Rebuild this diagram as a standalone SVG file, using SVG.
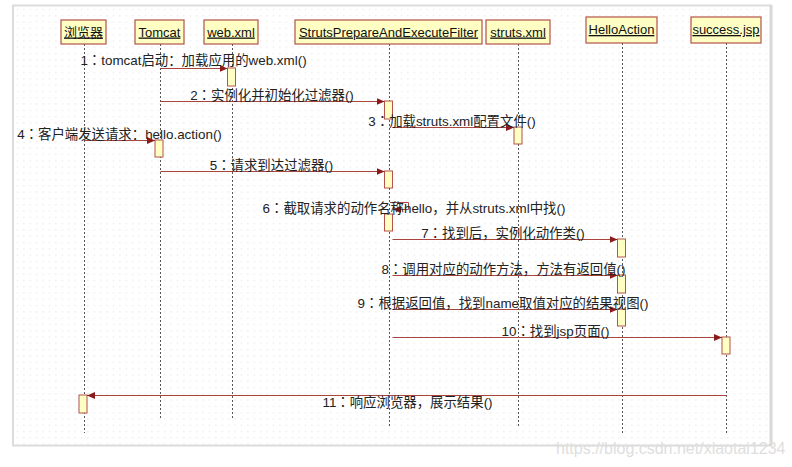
<svg xmlns="http://www.w3.org/2000/svg" width="792" height="467" viewBox="0 0 792 467">
<defs>
<pattern id="grid" x="13" y="6" width="6.4" height="6.3" patternUnits="userSpaceOnUse">
<rect x="4" y="3" width="1" height="1" fill="#d9d9d9"/>
</pattern>
<marker id="arr" markerWidth="9" markerHeight="7" refX="8" refY="3.5" orient="auto" markerUnits="userSpaceOnUse">
<path d="M0,0 L8,3.5 L0,7 z" fill="#8B1A1A"/>
</marker>
</defs>
<style>
.hdr{fill:#FFFFC4;stroke:#B5524A;stroke-width:1.2}
.act{fill:#FFFFC4;stroke:#B5524A;stroke-width:1}
.life{stroke:#555;stroke-width:1;stroke-dasharray:2,2;fill:none}
.ht{font-family:"Liberation Sans","Noto Sans CJK SC",sans-serif;font-size:13px;fill:#111;text-anchor:middle;text-decoration:underline}
.lbl{font-family:"Liberation Sans","Noto Sans CJK SC",sans-serif;font-size:13.4px;fill:#222;text-anchor:middle}
.c{font-family:"Noto Sans CJK TC",sans-serif}
.msg{stroke:#A8453F;stroke-width:1;fill:none;marker-end:url(#arr)}
</style>
<rect x="0" y="0" width="792" height="467" fill="#fff"/>
<rect x="13" y="5.5" width="758" height="440" fill="url(#grid)" stroke="#dcdcdc" stroke-width="2"/>
<line x1="771" y1="5" x2="771" y2="446" stroke="#d8d8d8" stroke-width="3"/>

<g id="browser">
<line class="life" x1="84.5" y1="44" x2="84.5" y2="433"/>
<rect class="hdr" x="61" y="20" width="45" height="24"/>
<text class="ht" x="83.5" y="36.5">浏览器</text>
<rect class="act" x="79" y="395" width="8" height="18"/>
</g>
<g id="tomcat">
<line class="life" x1="160.5" y1="44" x2="160.5" y2="418"/>
<rect class="hdr" x="135" y="20" width="49" height="24"/>
<text class="ht" x="159.5" y="36.5">Tomcat</text>
<rect class="act" x="155" y="140" width="8" height="17"/>
</g>
<g id="webxml">
<line class="life" x1="232.5" y1="44" x2="232.5" y2="418"/>
<rect class="hdr" x="204" y="20" width="54" height="24"/>
<text class="ht" x="231" y="36.5">web.xml</text>
<rect class="act" x="227.5" y="68" width="8" height="18"/>
</g>
<g id="filter">
<line class="life" x1="389.5" y1="44" x2="389.5" y2="427"/>
<rect class="hdr" x="295" y="20" width="187" height="24"/>
<text class="ht" x="388.5" y="36.5">StrutsPrepareAndExecuteFilter</text>
<rect class="act" x="384.5" y="101" width="8" height="18"/>
<rect class="act" x="384.5" y="171" width="8" height="17"/>
<rect class="act" x="384.5" y="214" width="8" height="17"/>
</g>
<g id="strutsxml">
<line class="life" x1="518.5" y1="44" x2="518.5" y2="426"/>
<rect class="hdr" x="486" y="20" width="64" height="24"/>
<text class="ht" x="518" y="36.5">struts.xml</text>
<rect class="act" x="514" y="127" width="8" height="17"/>
</g>
<g id="helloaction">
<line class="life" x1="622.5" y1="43" x2="622.5" y2="435"/>
<rect class="hdr" x="586" y="17" width="71" height="26"/>
<text class="ht" x="621.5" y="34">HelloAction</text>
<rect class="act" x="617.5" y="239" width="8" height="18"/>
<rect class="act" x="617.5" y="275" width="8" height="18"/>
<rect class="act" x="617.5" y="309" width="8" height="17"/>
</g>
<g id="successjsp">
<line class="life" x1="726.5" y1="43" x2="726.5" y2="435"/>
<rect class="hdr" x="691" y="17" width="70" height="26"/>
<text class="ht" x="726" y="34">success.jsp</text>
<rect class="act" x="722" y="337" width="8" height="17"/>
</g>

<g id="connectors">
<line class="msg" x1="160.5" y1="68.5" x2="227.5" y2="68.5"/>
<line class="msg" x1="160.5" y1="101.5" x2="384.5" y2="101.5"/>
<line class="msg" x1="392.5" y1="127.5" x2="514" y2="127.5"/>
<line class="msg" x1="84.5" y1="140.5" x2="155" y2="140.5"/>
<line class="msg" x1="160.5" y1="171.5" x2="384.5" y2="171.5"/>
<path class="msg" d="M390,202.5 H408.5 V209.5 H393"/>
<line class="msg" x1="392.5" y1="239.5" x2="617.5" y2="239.5"/>
<line class="msg" x1="392.5" y1="275.5" x2="617.5" y2="275.5"/>
<line class="msg" x1="392.5" y1="309.5" x2="617.5" y2="309.5"/>
<line class="msg" x1="392.5" y1="337.5" x2="722" y2="337.5"/>
<line class="msg" x1="726.5" y1="395.5" x2="87" y2="395.5"/>
<text class="lbl" x="193.5" y="65">1<tspan class="c">：</tspan>tomcat启动：加载应用的web.xml()</text>
<text class="lbl" x="272" y="100">2<tspan class="c">：</tspan>实例化并初始化过滤器()</text>
<text class="lbl" x="452" y="126">3<tspan class="c">：</tspan>加载struts.xml配置文件()</text>
<text class="lbl" x="119.5" y="139">4<tspan class="c">：</tspan>客户端发送请求：hello.action()</text>
<text class="lbl" x="271.5" y="170">5<tspan class="c">：</tspan>请求到达过滤器()</text>
<text class="lbl" x="414" y="213">6<tspan class="c">：</tspan>截取请求的动作名称hello，并从struts.xml中找()</text>
<text class="lbl" x="503" y="238">7<tspan class="c">：</tspan>找到后，实例化动作类()</text>
<text class="lbl" x="503.5" y="274">8<tspan class="c">：</tspan>调用对应的动作方法，方法有返回值()</text>
<text class="lbl" x="503" y="308">9<tspan class="c">：</tspan>根据返回值，找到name取值对应的结果视图()</text>
<text class="lbl" x="555.5" y="336">10<tspan class="c">：</tspan>找到jsp页面()</text>
<text class="lbl" x="407.5" y="406.5">11<tspan class="c">：</tspan>响应浏览器，展示结果()</text>
</g>
<text x="556" y="454" font-family="Liberation Sans, sans-serif" font-size="16" fill="#dedede">https://blog.csdn.net/xiaotai1234</text>
</svg>
